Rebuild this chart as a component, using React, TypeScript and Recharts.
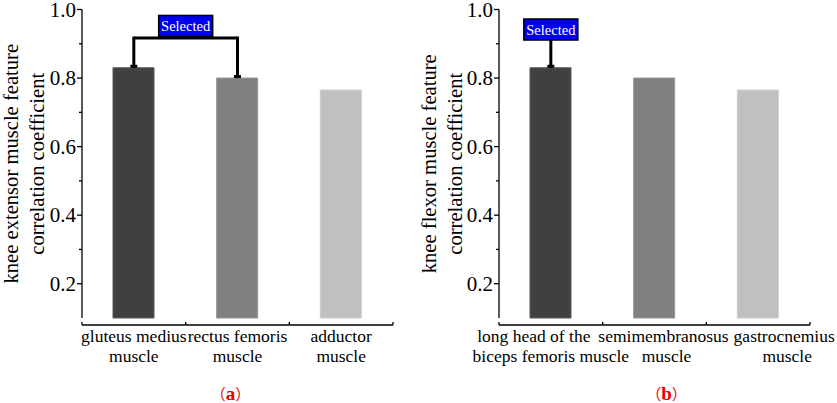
import React from 'react';
import {
  BarChart,
  Bar,
  Cell,
  XAxis,
  YAxis,
  ReferenceLine,
  ReferenceDot,
} from 'recharts';

// Categories (line breaks are where the figure wraps the labels)
const EXTENSOR_MUSCLES = ['gluteus medius\nmuscle', 'rectus femoris\nmuscle', 'adductor\nmuscle'];
const FLEXOR_MUSCLES = ['long head of the\nbiceps femoris muscle', 'semimembranosus\nmuscle', 'gastrocnemius\nmuscle'];

// Correlation coefficients
const EXTENSOR_VALUES = [0.83, 0.8, 0.765];
const FLEXOR_VALUES = [0.83, 0.8, 0.765];

const Y_DOMAIN = [0.1, 1.0];
const Y_TICKS = [0.2, 0.3, 0.4, 0.5, 0.6, 0.7, 0.8, 0.9, 1.0];

// Height the "Selected" bracket is drawn at
const BRACKET_LEVEL = 0.917;

const BAR_FILLS = ['#404040', '#808080', '#c0c0c0'];
const BAR_STROKES = ['#585858', '#959595', '#cccccc'];

const FONT = 'Liberation Serif';

// per-line horizontal nudges of the flexor labels (they are not centred in the figure)
const FLEXOR_LABEL_SHIFT = [
  [-17, 0],
  [9, 12],
  [26, 29],
];

const YTick = (props: any) => {
  const { x, y, payload, index } = props;
  const major = index % 2 === 0;
  return (
    <g>
      <line x1={x - (major ? 5 : 3)} x2={x} y1={y} y2={y} stroke="#000" strokeWidth={1.3} />
      {major && (
        <text x={x - 6} y={y} dy="0.34em" textAnchor="end" fontFamily={FONT} fontSize={21} fill="#000">
          {Number(payload.value).toFixed(1)}
        </text>
      )}
    </g>
  );
};

const makeXTick = (shifts?: number[][]) => (props: any) => {
  const { x, y, payload, index, visibleTicksCount } = props;
  const half = payload.offset ?? 51.8;
  const axisY = y + 7;
  const lines = String(payload.value).split('\n');
  return (
    <g>
      <line x1={x - half} x2={x + half} y1={axisY} y2={axisY} stroke="#000" strokeWidth={1.3} />
      <line x1={x - half} x2={x - half} y1={axisY} y2={axisY - 3} stroke="#000" strokeWidth={1.3} />
      {index === visibleTicksCount - 1 && (
        <line x1={x + half} x2={x + half} y1={axisY} y2={axisY - 3} stroke="#000" strokeWidth={1.3} />
      )}
      {lines.map((t, i) => (
        <text
          key={i}
          x={x + (shifts?.[index]?.[i] ?? 0)}
          y={y + 24 + i * 20}
          textAnchor="middle"
          fontFamily={FONT}
          fontSize={17.5}
          fill="#000"
        >
          {t}
        </text>
      ))}
    </g>
  );
};

const axisTitle = (lines: string[]) => (props: any) => {
  const vb = props.viewBox || { x: 0, y: 0, height: 0 };
  const cy = vb.y + vb.height / 2;
  return (
    <text
      transform={`translate(${vb.x},${cy}) rotate(-90)`}
      textAnchor="middle"
      fontFamily={FONT}
      fontSize={20.6}
      fill="#000"
    >
      {lines.map((t, i) => (
        <tspan key={i} x={0} y={18 + i * 26}>
          {t}
        </tspan>
      ))}
    </text>
  );
};

const panelLetter = (letter: string, dx: number) => (props: any) => {
  const vb = props.viewBox || { x: 0, y: 0, width: 0 };
  return (
    <text
      x={vb.x + vb.width / 2 + dx}
      y={vb.y + 82}
      textAnchor="middle"
      fontFamily="Noto Sans CJK SC"
      fontSize={15}
      fill="#ee0000"
    >
      <tspan>（</tspan>
      <tspan fontFamily={FONT} fontWeight="bold" fontSize={19}>
        {letter}
      </tspan>
      <tspan>）</tspan>
    </text>
  );
};

const selectedBox = (vertical: boolean) => (props: any) => {
  const vb = props.viewBox || { x: 0, y: 0, width: 0 };
  const cx = vertical ? vb.x : vb.x + vb.width / 2;
  const bottom = vb.y - (vertical ? 0 : 1.5);
  const w = 54;
  const h = 21;
  return (
    <g>
      <rect x={cx - w / 2} y={bottom - h} width={w} height={h} fill="#0000ee" stroke="#000" strokeWidth={1.5} />
      <text x={cx} y={bottom - h / 2 + 5} textAnchor="middle" fontFamily={FONT} fontSize={14.5} fill="#fff">
        Selected
      </text>
    </g>
  );
};

const cap = (p: any) => <rect x={p.cx - 3.5} y={p.cy - 3} width={7} height={3} fill="#000" />;

interface PanelProps {
  categories: string[];
  values: number[];
  title: string[];
  letter: string;
  letterShift: number;
  selected: number[];
  yAxisWidth: number;
  width: number;
  marginRight: number;
  shifts?: number[][];
}

function Panel({
  categories,
  values,
  title,
  letter,
  letterShift,
  selected,
  yAxisWidth,
  width,
  marginRight,
  shifts,
}: PanelProps) {
  const data = categories.map((name, i) => ({ name, value: values[i] }));
  const first = categories[selected[0]];
  const last = categories[selected[selected.length - 1]];
  return (
    <BarChart
      width={width}
      height={403}
      data={data}
      margin={{ top: 9.5, right: marginRight, bottom: 0, left: 0 }}
    >
      <XAxis
        dataKey="name"
        height={85}
        axisLine={false}
        tickLine={false}
        tickSize={0}
        tickMargin={0}
        interval={0}
        tick={makeXTick(shifts)}
        label={{ content: panelLetter(letter, letterShift) }}
      />
      <YAxis
        width={yAxisWidth}
        domain={Y_DOMAIN}
        ticks={Y_TICKS}
        interval={0}
        axisLine={{ stroke: '#000', strokeWidth: 1.3 }}
        tickLine={false}
        tickSize={0}
        tickMargin={0}
        tick={<YTick />}
        label={{ content: axisTitle(title) }}
      />
      <Bar dataKey="value" barSize={41} isAnimationActive={false}>
        {data.map((_, i) => (
          <Cell key={i} fill={BAR_FILLS[i]} stroke={BAR_STROKES[i]} strokeWidth={1} />
        ))}
      </Bar>
      {selected.length > 1 ? (
        <ReferenceLine
          segment={[
            { x: first, y: BRACKET_LEVEL },
            { x: last, y: BRACKET_LEVEL },
          ]}
          stroke="#000"
          strokeWidth={3}
          label={{ content: selectedBox(false) }}
        />
      ) : null}
      {selected.map((idx) => (
        <ReferenceLine
          key={`v${idx}`}
          segment={[
            { x: categories[idx], y: BRACKET_LEVEL + (selected.length > 1 ? 0.004 : -0.006) },
            { x: categories[idx], y: values[idx] },
          ]}
          stroke="#000"
          strokeWidth={3}
          label={selected.length > 1 ? undefined : { content: selectedBox(true) }}
        />
      ))}
      {selected.map((idx) => (
        <ReferenceDot key={`c${idx}`} x={categories[idx]} y={values[idx]} shape={cap} />
      ))}
    </BarChart>
  );
}

export default function App() {
  return (
    <div
      style={{
        position: 'absolute',
        left: 0,
        top: 0,
        width: 837,
        height: 403,
        background: '#fff',
        overflow: 'hidden',
      }}
    >
      <div style={{ position: 'absolute', left: 0, top: 0 }}>
        <Panel
          categories={EXTENSOR_MUSCLES}
          values={EXTENSOR_VALUES}
          title={['knee extensor muscle feature', 'correlation coefficient']}
          letter="a"
          letterShift={-7}
          selected={[0, 1]}
          yAxisWidth={82}
          width={418}
          marginRight={25}
        />
      </div>
      <div style={{ position: 'absolute', left: 418, top: 0 }}>
        <Panel
          categories={FLEXOR_MUSCLES}
          values={FLEXOR_VALUES}
          title={['knee flexor muscle feature', 'correlation coefficient']}
          letter="b"
          letterShift={12}
          selected={[0]}
          yAxisWidth={81}
          width={419}
          marginRight={27}
          shifts={FLEXOR_LABEL_SHIFT}
        />
      </div>
    </div>
  );
}
